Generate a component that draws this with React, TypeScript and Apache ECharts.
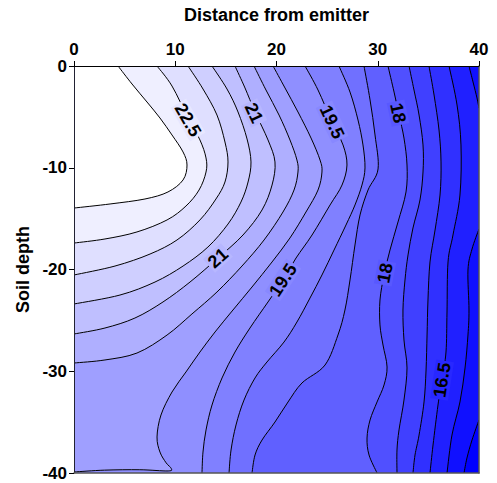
import React, { useEffect, useRef } from "react";
import * as echarts from "echarts";

// Axis extents
const xMin = 0;
const xMax = 40;
const yMin = -40;
const yMax = 0;
const axisStep = 10;

// Contour lines: [distance, depth] points.
// Each line is ordered so that lower values lie on its right-hand side.
const c23 = [[0, -13.96], [3.56, -13.56], [7.01, -13.07], [9.28, -12.38], [10.77, -11.2], [11.16, -9.73], [10.77, -8.45], [9.68, -6.78], [8.49, -5.11], [7.21, -3.54], [5.73, -1.77], [4.35, 0]];
const c22_5 = [[0, -17.4], [3.06, -17.0], [6.22, -16.31], [9.19, -15.13], [11.06, -13.76], [12.35, -12.19], [13.04, -10.42], [13.04, -9.04], [12.44, -7.27], [11.26, -5.11], [9.68, -1.97], [8.2, 0]];
const c22 = [[0, -20.54], [4.05, -19.66], [7.51, -18.48], [10.17, -17.1], [12.44, -15.13], [14.02, -13.07], [14.91, -11.4], [15.21, -9.43], [14.91, -7.47], [14.12, -4.82], [12.74, -2.26], [11.26, 0]];
const c21_5 = [[0, -23.39], [4.54, -22.51], [8.0, -21.23], [10.77, -19.66], [13.23, -17.79], [15.21, -15.53], [16.49, -13.37], [17.19, -11.4], [17.48, -9.43], [17.09, -7.17], [16.2, -4.52], [15.11, -2.26], [13.63, 0]];
const c21 = [[0, -26.34], [3.06, -25.75], [6.02, -24.77], [8.79, -23.19], [11.46, -21.23], [14.22, -18.87], [16.69, -16.61], [18.57, -14.15], [19.56, -11.7], [19.85, -9.43], [19.16, -7.27], [17.88, -4.52], [16.89, -2.16], [15.9, 0]];
const c20_5 = [[0, -29.19], [3.06, -28.89], [6.22, -28.21], [9.19, -26.44], [11.65, -24.37], [14.12, -22.21], [16.59, -19.66], [18.77, -17.1], [20.64, -14.35], [21.73, -12.19], [22.12, -10.42], [22.02, -9.24], [21.33, -7.27], [20.25, -4.82], [18.96, -2.36], [17.78, 0]];
const c20 = [[0, -39.9], [3.0, -39.72], [6.5, -39.68], [9.3, -39.8], [9.6, -39.55], [9.1, -39.0], [8.49, -37.94], [8.2, -36.46], [8.59, -34.3], [9.68, -32.04], [11.06, -30.07], [12.44, -28.11], [13.93, -26.14], [15.7, -23.98], [17.58, -21.72], [19.56, -19.26], [21.33, -16.9], [22.91, -14.35], [24.1, -12.19], [24.49, -10.42], [24.3, -9.24], [23.41, -7.08], [22.12, -4.52], [20.84, -2.16], [19.66, 0]];
const c19_5 = [[12.64, -40], [12.74, -37.94], [13.04, -35.77], [13.63, -33.32], [14.62, -30.66], [15.9, -28.11], [17.38, -25.75], [19.16, -23.19], [20.64, -21.03], [21.93, -18.87], [23.51, -16.61], [25.29, -13.66], [26.47, -11.7], [26.96, -9.73], [26.57, -7.76], [25.48, -5.5], [24.1, -2.36], [22.82, 0]];
const c19 = [[15.31, -40], [15.51, -37.74], [16.0, -35.28], [16.79, -32.83], [17.88, -30.66], [19.06, -29.09], [20.74, -27.13], [22.02, -25.16], [23.31, -22.8], [24.49, -20.54], [25.68, -18.09], [26.86, -15.63], [27.75, -13.66], [28.44, -11.7], [28.74, -10.02], [28.54, -7.76], [28.05, -5.31], [27.26, -2.56], [26.17, 0]];
const c18_5 = [[17.58, -40], [17.88, -38.23], [18.57, -36.76], [19.85, -34.99], [21.14, -33.02], [22.52, -31.15], [24.79, -29.39], [26.07, -26.44], [26.76, -23.98], [27.26, -21.03], [27.75, -17.59], [28.25, -14.64], [29.04, -12.19], [30.03, -10.12], [29.73, -6.78], [29.24, -3.34], [28.64, 0]];
const c18 = [[29.93, -40], [29.14, -38.23], [28.94, -36.56], [29.24, -34.79], [29.93, -33.02], [30.62, -31.35], [30.92, -29.58], [30.52, -27.42], [30.22, -25.45], [30.22, -23.0], [30.62, -20.54], [31.21, -18.08], [32.0, -15.33], [32.79, -12.38], [32.89, -9.73], [32.59, -7.08], [32.1, -4.82], [31.61, -2.56], [31.01, 0]];
const c17_5 = [[31.9, -40], [31.9, -37.74], [32.1, -35.77], [32.59, -32.83], [32.89, -29.68], [32.59, -26.93], [32.49, -23.98], [32.69, -21.03], [32.99, -18.57], [33.48, -15.92], [34.17, -13.17], [34.47, -10.42], [34.47, -7.76], [34.08, -4.82], [33.58, -2.36], [33.09, 0]];
const c17 = [[33.48, -40], [33.68, -38.23], [34.08, -36.27], [34.57, -33.02], [34.77, -29.88], [34.87, -26.44], [34.96, -23.0], [35.16, -19.26], [35.66, -16.12], [36.15, -12.68], [36.25, -9.43], [36.05, -6.29], [35.56, -2.85], [35.06, 0]];
const c16_5 = [[35.16, -40], [35.46, -37.25], [35.95, -33.32], [36.35, -30.76], [36.74, -28.11], [36.84, -24.18], [36.94, -19.26], [37.43, -16.61], [38.12, -12.68], [38.22, -7.76], [37.83, -3.83], [37.04, 0]];
const c16a = [[40, -4.13], [39.8, -3.14], [39.41, -1.57], [39.01, 0]];
const c16b = [[36.84, -40], [37.33, -36.27], [38.12, -33.02], [38.62, -29.68], [38.91, -26.44], [39.01, -23.98], [38.91, -20.05], [39.31, -17.99], [40, -16.02]];
const c15_5 = [[38.52, -40], [38.81, -38.53], [39.31, -36.76], [40, -34.79]];

// Level of each contour segment, in drawing order (high to low)
const segmentLevels = [23, 22.5, 22, 21.5, 21, 20.5, 20, 19.5, 19, 18.5, 18, 17.5, 17, 16.5, 16, 16, 15.5];
const segmentLines = [c23, c22_5, c22, c21_5, c21, c20_5, c20, c19_5, c19, c18_5, c18, c17_5, c17, c16_5, c16a, c16b, c15_5];

// Contour labels
const labelText = ["22.5", "21", "19.5", "18", "21", "19.5", "18", "16.5"];
const labelLevel = [22.5, 21, 19.5, 18, 21, 19.5, 18, 16.5];
const labelX = [11.26, 17.78, 25.49, 32.0, 14.22, 20.65, 30.72, 36.35];
const labelY = [-5.31, -4.62, -5.5, -4.62, -18.87, -21.03, -20.35, -30.87];
const labelAngle = [-60, -65, -65, -78, 42, 57, 79, 81];

const FONT = "'Liberation Sans', Arial, Helvetica, sans-serif";

const uniqueLevels = Array.from(new Set(segmentLevels)).sort((a, b) => a - b);
const nBands = uniqueLevels.length; // band above the top level is white

function bandRGB(k: number): number[] {
  const g = Math.round((255 * k) / nBands);
  return [g, g, 255];
}
function rgbStr(c: number[]) {
  return `rgb(${c[0]},${c[1]},${c[2]})`;
}
// colour of the region just below a level
function belowColor(level: number) {
  return rgbStr(bandRGB(uniqueLevels.indexOf(level)));
}
function labelBg(level: number) {
  const k = uniqueLevels.indexOf(level);
  const a = bandRGB(k);
  const b = bandRGB(k + 1);
  return rgbStr([(a[0] + b[0]) / 2, (a[1] + b[1]) / 2, 255].map(Math.round));
}

const W = xMax - xMin;
const H = yMax - yMin;
const P = 2 * W + 2 * H;
function perim(p: number[]) {
  const e = 1e-6;
  const [x, y] = p;
  if (Math.abs(y - yMax) < e) return x - xMin;
  if (Math.abs(x - xMax) < e) return W + (yMax - y);
  if (Math.abs(y - yMin) < e) return W + H + (xMax - x);
  return 2 * W + H + (y - yMin);
}
const cornerT = [W, W + H, 2 * W + H, 2 * W + 2 * H];
const cornerPts = [[xMax, yMax], [xMax, yMin], [xMin, yMin], [xMin, yMax]];
function closingCorners(start: number[], end: number[]) {
  const tEnd = perim(end);
  let target = perim(start);
  if (target <= tEnd) target += P;
  const out: number[][] = [];
  for (let k = 0; k < 2; k++) {
    cornerT.forEach((c, i) => {
      const ct = c + k * P;
      if (ct > tEnd && ct < target) out.push(cornerPts[i]);
    });
  }
  return out;
}

function curvePath(pts: number[][]) {
  let d = `M${pts[0][0]},${pts[0][1]}`;
  for (let i = 0; i < pts.length - 1; i++) {
    const p0 = pts[i - 1] || pts[i];
    const p1 = pts[i];
    const p2 = pts[i + 1];
    const p3 = pts[i + 2] || p2;
    const c1x = p1[0] + (p2[0] - p0[0]) / 6;
    const c1y = p1[1] + (p2[1] - p0[1]) / 6;
    const c2x = p2[0] - (p3[0] - p1[0]) / 6;
    const c2y = p2[1] - (p3[1] - p1[1]) / 6;
    d += ` C${c1x.toFixed(2)},${c1y.toFixed(2)} ${c2x.toFixed(2)},${c2y.toFixed(2)} ${p2[0].toFixed(2)},${p2[1].toFixed(2)}`;
  }
  return d;
}

export default function App() {
  const ref = useRef<HTMLDivElement>(null);
  useEffect(() => {
    if (!ref.current) return;
    const chart = echarts.init(ref.current, null, { renderer: "svg" });
    const segIdx = segmentLines.map((_, i) => [i]);
    const labIdx = labelText.map((_, i) => [i]);
    const axisLabelStyle = { fontSize: 17, fontWeight: "bold" as const, color: "#000", fontFamily: FONT };
    const nameStyle = { fontSize: 18, fontWeight: "bold" as const, color: "#000", fontFamily: FONT };
    chart.setOption({
      animation: false,
      grid: { left: 74, right: 18, top: 66, bottom: 10, show: false },
      xAxis: [
        {
          type: "value", position: "top", min: xMin, max: xMax, interval: axisStep, z: 10,
          name: "Distance from emitter", nameLocation: "middle", nameGap: 42, nameTextStyle: nameStyle,
          axisLine: { show: true, onZero: false, lineStyle: { color: "#000", width: 1 } },
          axisTick: { show: true, length: 5, lineStyle: { color: "#000" } },
          axisLabel: { ...axisLabelStyle, margin: 8 },
          splitLine: { show: false },
        },
        {
          type: "value", position: "bottom", min: xMin, max: xMax, interval: axisStep, z: 10,
          axisLine: { show: true, onZero: false, lineStyle: { color: "#555", width: 1.5 } },
          axisTick: { show: false }, axisLabel: { show: false }, splitLine: { show: false },
        },
      ],
      yAxis: [
        {
          type: "value", position: "left", min: yMin, max: yMax, interval: axisStep, z: 10,
          name: "Soil depth", nameLocation: "middle", nameGap: 38, nameRotate: 90, nameTextStyle: nameStyle,
          axisLine: { show: true, onZero: false, lineStyle: { color: "#223", width: 1 } },
          axisTick: { show: true, length: 5, lineStyle: { color: "#000" } },
          axisLabel: { ...axisLabelStyle, margin: 7 },
          splitLine: { show: false },
        },
        {
          type: "value", position: "right", min: yMin, max: yMax, interval: axisStep, z: 10,
          axisLine: { show: true, onZero: false, lineStyle: { color: "#555", width: 1.5 } },
          axisTick: { show: false }, axisLabel: { show: false }, splitLine: { show: false },
        },
      ],
      series: [
        {
          type: "custom", z: 1, clip: true, silent: true,
          data: segIdx,
          renderItem: (params: any, api: any) => {
            const i = params.dataIndex;
            const line = segmentLines[i];
            const px = line.map((p) => api.coord(p));
            const corners = closingCorners(line[0], line[line.length - 1]).map((c) => api.coord(c));
            let d = curvePath(px);
            corners.forEach((c: number[]) => { d += ` L${c[0]},${c[1]}`; });
            d += " Z";
            return { type: "path", z2: i, shape: { pathData: d }, style: { fill: belowColor(segmentLevels[i]), stroke: null } };
          },
        },
        {
          type: "custom", z: 2, clip: true, silent: true,
          data: segIdx,
          renderItem: (params: any, api: any) => {
            const line = segmentLines[params.dataIndex];
            const px = line.map((p) => api.coord(p));
            return { type: "path", shape: { pathData: curvePath(px) }, style: { fill: null, stroke: "#000", lineWidth: 1 } };
          },
        },
        {
          type: "custom", z: 3, clip: false, silent: true,
          data: labIdx,
          renderItem: (params: any, api: any) => {
            const i = params.dataIndex;
            const pos = api.coord([labelX[i], labelY[i]]);
            return {
              type: "text", x: pos[0], y: pos[1], rotation: (labelAngle[i] * Math.PI) / 180,
              style: {
                text: labelText[i], fontSize: 18, fontWeight: "bold", fontFamily: FONT, fill: "#000",
                align: "center", verticalAlign: "middle", backgroundColor: labelBg(labelLevel[i]), padding: [0, 2],
              },
            };
          },
        },
      ],
    });
    return () => chart.dispose();
  }, []);
  return <div ref={ref} style={{ position: "absolute", left: 0, top: 0, width: 497, height: 483 }} />;
}
